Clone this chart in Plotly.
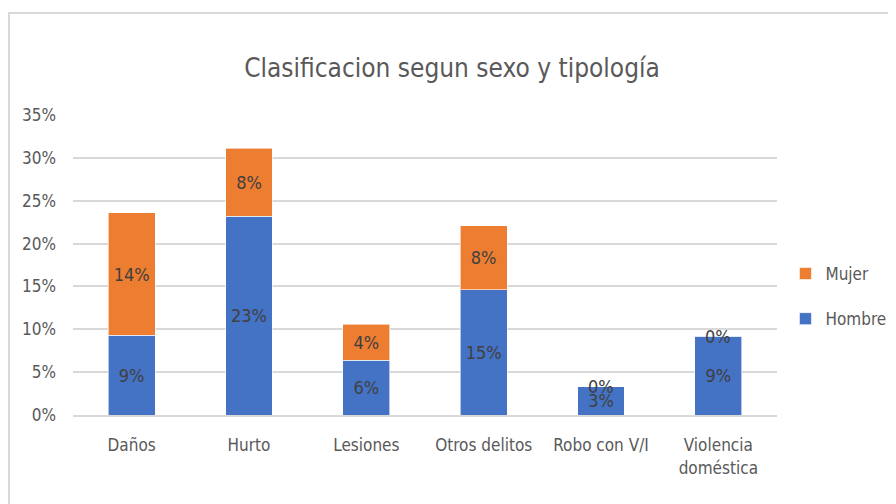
import plotly.graph_objects as go

categorias = ["Daños", "Hurto", "Lesiones", "Otros delitos", "Robo con V/I", "Violencia<br>doméstica"]
hombre = [0.093, 0.232, 0.064, 0.146, 0.033, 0.092]
mujer = [0.143, 0.079, 0.042, 0.075, 0.0, 0.0]
yticks = [0, 0.05, 0.10, 0.15, 0.20, 0.25, 0.30, 0.35]
ytick_labels = ["0%", "5%", "10%", "15%", "20%", "25%", "30%", "35%"]

FONT = "Liberation Sans Narrow, DejaVu Sans Condensed, Roboto Condensed, Roboto, sans-serif"
GRAY = "#595959"
LABEL = "#404040"

fig = go.Figure()
fig.add_trace(go.Bar(
    x=categorias, y=hombre, name="Hombre", legendgroup="h", legendrank=2,
    marker=dict(color="#4472C4", line=dict(color="rgba(255,255,255,0.6)", width=1)),
    texttemplate="%{y:.0%}", textposition="inside", insidetextanchor="middle",
    textfont=dict(family=FONT, size=18, color=LABEL), textangle=0,
))
fig.add_trace(go.Bar(
    x=categorias, y=mujer, name="Mujer", legendgroup="m", legendrank=1,
    marker=dict(color="#ED7D31", line=dict(color="rgba(255,255,255,0.6)", width=1)),
    texttemplate="%{y:.0%}", textposition="inside", insidetextanchor="middle",
    textfont=dict(family=FONT, size=18, color=LABEL), textangle=0,
))

# zero-height segments still get a label at the top of the stack, as in Excel
for c, h, m in zip(categorias, hombre, mujer):
    if m == 0:
        fig.add_annotation(x=c, y=h + m, text=f"{m:.0%}", showarrow=False,
                           yanchor="middle", font=dict(family=FONT, size=18, color=LABEL))

# page body has an 8px margin, so the figure is 8px smaller and shifted
fig.update_layout(
    width=888, height=496,
    margin=dict(l=65, r=119, t=107, b=89, autoexpand=False),
    barmode="stack", bargap=0.6,
    plot_bgcolor="white", paper_bgcolor="white",
    font=dict(family=FONT, color=GRAY, size=17),
    title=dict(text="Clasificacion segun sexo y tipología", x=0.5, xanchor="center",
               y=0.879, yanchor="middle", font=dict(family=FONT, size=26, color=GRAY)),
    legend=dict(x=1.012, y=0.53, xanchor="left", yanchor="top", traceorder="grouped",
                tracegroupgap=20, font=dict(family=FONT, size=17, color=GRAY),
                itemwidth=30, bgcolor="rgba(0,0,0,0)"),
    showlegend=True,
)
fig.update_xaxes(showgrid=False, showline=True, linecolor="#D9D9D9", linewidth=2,
                 tickfont=dict(family=FONT, size=17, color=GRAY), ticks="",
                 ticklabelstandoff=14, automargin=False)
fig.update_yaxes(range=[0, 0.35], tickvals=yticks, ticktext=ytick_labels,
                 showgrid=True, gridcolor="#D9D9D9", gridwidth=2, zeroline=False,
                 tickfont=dict(family=FONT, size=17, color=GRAY), ticks="",
                 ticklabelstandoff=16, automargin=False)

# chart frame
fig.add_shape(type="rect", xref="paper", yref="paper",
              x0=(1 - 65) / 704, x1=(900 - 65) / 704,
              y0=-(510 - 407) / 300, y1=(407 - 5) / 300,
              line=dict(color="#D9D9D9", width=2), fillcolor="rgba(0,0,0,0)", layer="below")

fig.write_html("out.html")
